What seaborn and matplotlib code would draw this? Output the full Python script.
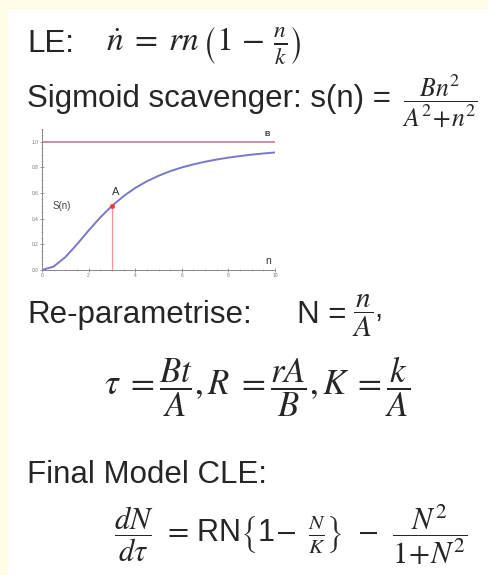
import numpy as np
import pandas as pd
import matplotlib
matplotlib.use("Agg")
import matplotlib.pyplot as plt
import seaborn as sns
from matplotlib.patches import Rectangle
from matplotlib.ticker import MultipleLocator

# --- Donnees ---
n_vals = [0, 0.5, 1, 1.5, 2, 2.5, 3, 3.5, 4, 4.5, 5, 5.5, 6, 6.5, 7, 7.5, 8, 8.5, 9, 9.5, 10]
s_vals = [0, 0.027, 0.10, 0.20, 0.308, 0.41, 0.50, 0.576, 0.64, 0.692, 0.735,
          0.771, 0.80, 0.824, 0.845, 0.862, 0.877, 0.889, 0.90, 0.909, 0.917]
B_level = 1.0
A_point = (3, 0.5)
x_ticks = [0, 2, 4, 6, 8, 10]
y_ticks = [0.0, 0.2, 0.4, 0.6, 0.8, 1.0]

df = pd.DataFrame({"n": n_vals, "s": s_vals})

sns.set_style("ticks")
plt.rcParams['font.family'] = ['Liberation Sans', 'DejaVu Sans']
plt.rcParams['mathtext.fontset'] = 'stix'

W, H = 488, 575
fig = plt.figure(figsize=(W / 100, H / 100), dpi=100)
fig.patch.set_facecolor('#fffbe6')
fig.patches.append(Rectangle((8 / W, 0), 1, 1 - 10 / H, transform=fig.transFigure,
                             facecolor='white', edgecolor='none', zorder=-10))


def px(x, y):
    return x / W, 1 - y / H


# --- Textes ---
fs = 22.5
fig.text(*px(27, 52), "LE:", fontsize=fs, va='baseline')
fig.text(*px(106, 46), r"$\dot{n}\;=\;rn\,\left(1\,-\,\frac{n}{k}\right)$", fontsize=24, va='center')
fig.text(*px(27, 107), "Sigmoid scavenger: s(n) =", fontsize=fs, va='baseline')
fig.text(*px(402, 102), r"$\dfrac{Bn^2}{A^2\!+\!n^2}$", fontsize=18.5, va='center')

fig.text(*px(27, 323), "Re-parametrise:", fontsize=fs, va='baseline')
fig.text(*px(297, 323), "N =", fontsize=fs, va='baseline')
fig.text(*px(352, 316), r"$\dfrac{n}{A}$,", fontsize=21, va='center')
fig.text(*px(104, 387), r"$\tau\;=\dfrac{Bt}{A},R\;=\dfrac{rA}{B},K\;=\dfrac{k}{A}$",
         fontsize=25, va='center')
fig.text(*px(27, 483), "Final Model CLE:", fontsize=fs, va='baseline')
fig.text(*px(114, 535),
         r"$\dfrac{dN}{d\tau}\;\,=\,\mathregular{RN}\left\{\mathregular{1}\!-\ \frac{N}{K}\right\}\;\,-\;\,\dfrac{N^2}{1\!+\!N^2}$",
         fontsize=22, va='center')

# --- Petit graphique s(n) ---
ax = fig.add_axes([42 / W, 1 - 270 / H, 233 / W, 141 / H])
ax.set_facecolor('white')
sns.lineplot(data=df, x='n', y='s', ax=ax, color='#7878cc', linewidth=1.4)
ax.axhline(B_level, color='#c890aa', linewidth=1.4)
ax.plot([A_point[0], A_point[0]], [0, A_point[1]], color='#ff9090', linewidth=0.8)
ax.plot([A_point[0]], [A_point[1]], marker='o', markersize=2.5, color='#ff3030')

ax.set_xlim(0, 10)
ax.set_ylim(0, 1.1)
ax.set_xticks(x_ticks)
ax.set_yticks(y_ticks)
ax.set_xticklabels([str(t) for t in x_ticks])
ax.set_yticklabels([f"{t:.1f}" for t in y_ticks])
ax.xaxis.set_minor_locator(MultipleLocator(0.5))
ax.yaxis.set_minor_locator(MultipleLocator(0.05))
ax.tick_params(which='major', length=2.5, width=0.6, color='#888888', labelsize=3.5,
               labelcolor='#777777', pad=1, direction='inout')
ax.tick_params(which='minor', length=1.5, width=0.4, color='#999999', direction='inout')
ax.set_xlabel("")
ax.set_ylabel("")
sns.despine(ax=ax)
for sp in ['left', 'bottom']:
    ax.spines[sp].set_color('#888888')
    ax.spines[sp].set_linewidth(0.7)

ax.text(0.45, 0.5, "S(n)", fontsize=7, color='#444444', va='center')
ax.text(3.0, 0.61, "A", fontsize=8, color='#333333', va='center')
ax.text(9.55, 1.06, "B", fontsize=5.5, color='#333333', va='center', fontweight='bold')
ax.text(9.6, 0.07, "n", fontsize=7.5, color='#333333', va='center')

fig.savefig("out.png", dpi=100, facecolor=fig.get_facecolor())
